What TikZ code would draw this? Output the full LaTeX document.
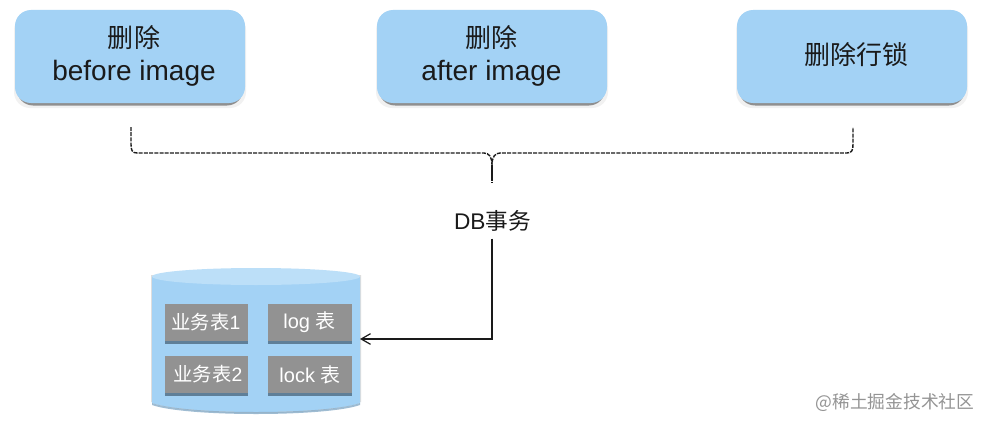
\documentclass[tikz,border=0pt]{standalone}
\usepackage{fontspec}
\setmainfont{Liberation Sans}
\newfontfamily\cjk{Noto Sans CJK SC}
\usetikzlibrary{arrows.meta,positioning,shapes.geometric}
\definecolor{boxblue}{HTML}{A3D2F5}
\definecolor{cyltop}{HTML}{BCDFF8}
\definecolor{cylshade}{HTML}{7FA6C4}
\definecolor{tablegray}{HTML}{929292}
\definecolor{tableshade}{HTML}{5F7F98}
\definecolor{ink}{HTML}{1A1A1A}
\tikzset{
  x=0.75pt,y=-0.75pt,
  stepbox/.style={draw=none,fill=boxblue,rounded corners=12pt,minimum width=172.5pt,minimum height=69.75pt,align=center,text=ink,font=\fontsize{21}{24}\selectfont,inner sep=0pt},
  steptext/.style={align=center,text=ink,font=\fontsize{21}{24}\selectfont,inner sep=0pt},
  stepshadow/.style={fill=black!60,rounded corners=12pt,opacity=.7},
  tablebox/.style={fill=tablegray,minimum width=62.5pt,minimum height=27.75pt,inner sep=0pt},
  tabletext/.style={text=white,inner sep=0pt,font=\fontsize{15}{18}\selectfont},
  tableshadow/.style={fill=tableshade},
  bracket/.style={draw=ink,line width=1.05pt,dash pattern=on 3pt off 0.9pt},
  link/.style={draw=ink,line width=0.9pt,-{Straight Barb[length=7pt,width=8pt]}},
}
\begin{document}
\begin{tikzpicture}
\useasboundingbox (0,0) rectangle (991,428);
\fill[white] (0,0) rectangle (991,428);
% shadows of the top boxes
\foreach \a/\b in {15/245,377/607,737/967}{
  \fill[black!10,rounded corners=12pt,opacity=.5] (\a-1,14) rectangle (\b+1,108);
  \fill[stepshadow] (\a+2,16) rectangle (\b-2,105.5);
}
\node[stepbox] (before) at (130,56.5) {};
\node[stepbox] (after) at (492,56.5) {};
\node[stepbox] (lock) at (852,56.5) {};
\node[steptext] (beforet) at (134,56) {{\cjk\fontsize{19.5}{24}\selectfont 删除}\\[1pt]before image};
\node[steptext] (aftert) at (491.5,56) {{\cjk\fontsize{19.5}{24}\selectfont 删除}\\[1pt]after image};
\node[steptext] (lockt) at (856,55) {{\cjk\fontsize{19.5}{24}\selectfont 删除行锁}};
% bracket
\coordinate (bl) at (131,127);
\coordinate (br) at (853,127);
\coordinate (bm) at (492,183);
\node[text=ink,inner sep=0pt,font=\fontsize{17}{20}\selectfont] (tx) at (492.5,221) {DB{\cjk 事务}};
\draw[bracket] (bl) -- (131,144) .. controls (131,150) and (132,153) .. (137,153) -- (484,153) .. controls (489,153) and (492,157) .. (492,165) .. controls (492,157) and (495,153) .. (500,153) -- (847,153) .. controls (852,153) and (853,150) .. (853,144) -- (br);
\draw[bracket,dash pattern=on 6pt off 0.3pt] (492,165) -- (bm);
% cylinder
\fill[black!25,opacity=.5] (151,275) -- (151,402) .. controls (185,417) and (327,417) .. (361,402) -- (361,275) -- cycle;
\fill[boxblue] (152,277) -- (152,403) .. controls (186,415) and (326,415) .. (360,403) -- (360,277) -- cycle;
\path[fill=cylshade,opacity=.75] (152,403) .. controls (186,415) and (326,415) .. (360,403) -- (360,405) .. controls (326,417) and (186,417) .. (152,405) -- cycle;
\node[draw=none,fill=cyltop,minimum width=156pt,minimum height=12.75pt,shape=ellipse,inner sep=0pt] (db) at (256,276.5) {};
\coordinate (dbin) at (360,339);
% tables
\foreach \a/\b/\c/\d in {165/248/304/341,268/352/304/341,165/248/356/393,268/352/356/393}{
  \fill[tableshadow] (\a,\c+3) rectangle (\b,\d+3);
}
\node[tablebox] (t1) at (206.5,322.5) {};
\node[tablebox] (t2) at (310,322.5) {};
\node[tablebox] (t3) at (206.5,374.5) {};
\node[tablebox] (t4) at (310,374.5) {};
\node[tabletext,font=\fontsize{14.5}{18}\selectfont] (t1t) at (206,322.5) {{\cjk 业务表}1};
\node[tabletext] (t2t) at (309.5,322.5) {log {\cjk 表}};
\node[tabletext,font=\fontsize{14.5}{18}\selectfont] (t3t) at (208,374.5) {{\cjk 业务表}2};
\node[tabletext] (t4t) at (310,374.5) {lock {\cjk 表}};
\draw[link] (tx.south -| bm) ++(0,7) -- (492,339) -- (dbin);
\node[text=black!42,inner sep=0pt,font=\fontsize{13.3}{16}\selectfont] (wm) at (895,402.5) {\cjk @稀土掘金技术社区};
\end{tikzpicture}
\end{document}
